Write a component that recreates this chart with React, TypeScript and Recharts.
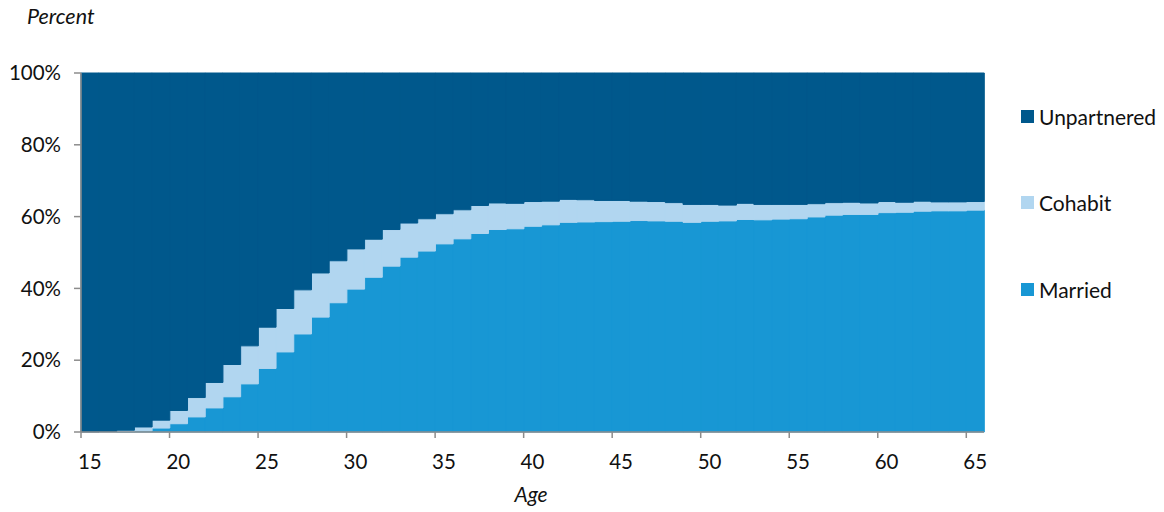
import React from "react"
import { BarChart, Bar, XAxis, YAxis } from "recharts"

// age groups, one bar per single year of age
const ages = [
  15, 16, 17, 18, 19, 20, 21, 22, 23, 24, 25, 26, 27, 28, 29, 30, 31, 32, 33, 34,
  35, 36, 37, 38, 39, 40, 41, 42, 43, 44, 45, 46, 47, 48, 49, 50, 51, 52, 53, 54,
  55, 56, 57, 58, 59, 60, 61, 62, 63, 64, 65,
]

const married = [
  0, 0, 0.1, 0.3, 1.1, 2.3, 4.2, 6.7, 9.8, 13.4, 17.7, 22.3, 27.3, 32.0, 36.0, 39.8,
  43.1, 46.2, 48.7, 50.4, 52.4, 53.8, 55.3, 56.4, 56.6, 57.3, 57.7, 58.4, 58.5, 58.6,
  58.7, 58.9, 58.8, 58.7, 58.4, 58.7, 58.8, 59.2, 59.1, 59.3, 59.4, 59.9, 60.4, 60.6,
  60.6, 61.1, 61.2, 61.5, 61.6, 61.6, 61.8,
]

const cohabit = [
  0, 0.1, 0.4, 1.1, 2.2, 3.7, 5.4, 7.1, 9.0, 10.6, 11.5, 12.1, 12.3, 12.3, 11.7, 11.2,
  10.6, 10.2, 9.5, 9.0, 8.4, 8.1, 7.8, 7.4, 7.1, 6.9, 6.6, 6.4, 6.2, 5.9, 5.8, 5.4, 5.4,
  5.2, 5.0, 4.7, 4.4, 4.5, 4.3, 4.1, 4.0, 3.7, 3.5, 3.4, 3.2, 3.1, 2.8, 2.8, 2.5, 2.5,
  2.4,
]

const unpartnered = [
  100, 99.9, 99.5, 98.6, 96.7, 94.0, 90.4, 86.2, 81.2, 76.0, 70.8, 65.6, 60.4, 55.7,
  52.3, 49.0, 46.3, 43.6, 41.8, 40.6, 39.2, 38.1, 36.9, 36.2, 36.3, 35.8, 35.7, 35.2,
  35.3, 35.5, 35.5, 35.7, 35.8, 36.1, 36.6, 36.6, 36.8, 36.3, 36.6, 36.6, 36.6, 36.4,
  36.1, 36.0, 36.2, 35.8, 36.0, 35.7, 35.9, 35.9, 35.8,
]

const yTicks = [0, 20, 40, 60, 80, 100]

const colors = {
  unpartnered: "#00588c",
  cohabit: "#b1d6f0",
  married: "#1897d4",
}

const legendItems = [
  { key: "unpartnered", label: "Unpartnered" },
  { key: "cohabit", label: "Cohabit" },
  { key: "married", label: "Married" },
]

const data = ages.map((age, i) => ({
  age,
  married: married[i],
  cohabit: cohabit[i],
  unpartnered: unpartnered[i],
}))

const FONT = "Lato, 'Open Sans', sans-serif"
const CHART_W = 1164
const CHART_H = 512
const MARGIN = { top: 73, right: 180, left: 0, bottom: 0 }
const Y_WIDTH = 81
const bandWidth = (CHART_W - MARGIN.left - MARGIN.right - Y_WIDTH) / ages.length

// ticks sit on the category boundaries, labels in the middle of the category
const AgeTick = (props: any) => {
  const { x, y, payload } = props
  const lx = x - bandWidth / 2
  return (
    <g>
      <line x1={lx} x2={lx} y1={y - 8} y2={y - 2} stroke="#8c8c8c" strokeWidth={1.5} />
      <text x={x} y={y + 29} textAnchor="middle" fill="#111" fontSize={20.5} fontFamily={FONT}>
        {payload.value}
      </text>
    </g>
  )
}

const LegendBox = () => (
  <div
    style={{
      position: "absolute",
      left: 1021,
      top: 103,
      fontFamily: FONT,
      fontSize: 21,
      color: "#111",
    }}
  >
    {legendItems.map((item) => (
      <div
        key={item.key}
        style={{ display: "flex", alignItems: "center", height: 26, marginBottom: 60.5 }}
      >
        <span
          style={{
            display: "inline-block",
            width: 13,
            height: 13,
            background: (colors as any)[item.key],
            marginRight: 5,
          }}
        />
        {item.label}
      </div>
    ))}
  </div>
)

export default function App() {
  return (
    <div style={{ position: "absolute", left: 0, top: 0, width: CHART_W, height: CHART_H, background: "#fff" }}>
      <div
        style={{
          position: "absolute",
          left: 27,
          top: 3,
          fontFamily: FONT,
          fontStyle: "italic",
          fontSize: 21.5,
          color: "#111",
        }}
      >
        Percent
      </div>
      <div
        style={{
          position: "absolute",
          left: 481,
          width: 100,
          top: 481,
          textAlign: "center",
          fontFamily: FONT,
          fontStyle: "italic",
          fontSize: 21,
          color: "#111",
        }}
      >
        Age
      </div>
      <LegendBox />
      <div style={{ position: "absolute", left: 0, top: 0 }}>
        <BarChart
          width={CHART_W}
          height={CHART_H}
          data={data}
          margin={MARGIN}
          barCategoryGap={0}
          barGap={0}
        >
          <XAxis
            dataKey="age"
            height={80}
            interval={4}
            tickLine={false}
            tickSize={6}
            axisLine={{ stroke: "#8c8c8c", strokeWidth: 1.5 }}
            tick={<AgeTick />}
          />
          <YAxis
            width={Y_WIDTH}
            domain={[0, 100]}
            ticks={yTicks}
            interval={0}
            tickFormatter={(v) => `${v}%`}
            tickSize={7}
            tickMargin={13}
            axisLine={{ stroke: "#8c8c8c", strokeWidth: 1.5 }}
            tickLine={{ stroke: "#8c8c8c", strokeWidth: 1.5 }}
            tick={{ fontSize: 20.5, fill: "#111", fontFamily: FONT }}
          />
          <Bar dataKey="married" stackId="a" fill={colors.married} stroke={colors.married} strokeWidth={1} isAnimationActive={false} />
          <Bar dataKey="cohabit" stackId="a" fill={colors.cohabit} stroke={colors.cohabit} strokeWidth={1} isAnimationActive={false} />
          <Bar dataKey="unpartnered" stackId="a" fill={colors.unpartnered} stroke={colors.unpartnered} strokeWidth={1} isAnimationActive={false} />
        </BarChart>
      </div>
    </div>
  )
}
